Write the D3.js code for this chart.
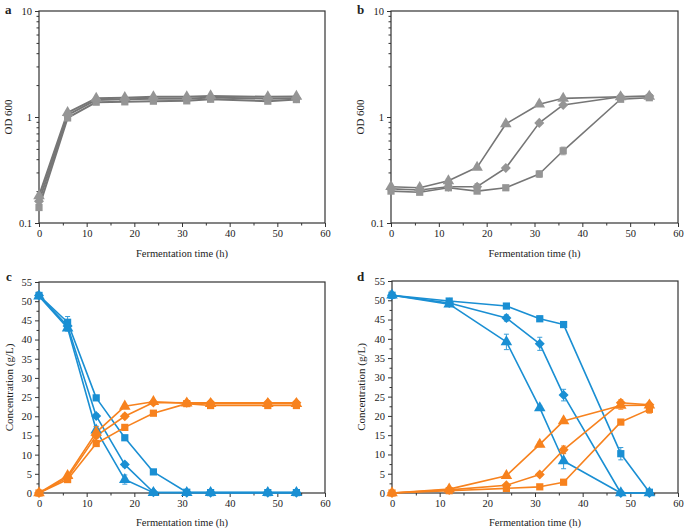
<!DOCTYPE html>
<html>
<head>
<meta charset="utf-8">
<script src="https://cdn.jsdelivr.net/npm/d3@7"></script>
<style>
  html, body { margin: 0; padding: 0; background: #fff; }
  svg { display: block; }
  text { font-family: "Liberation Serif", "Times New Roman", serif; fill: #222; }
</style>
</head>
<body>
<svg id="chart" width="685" height="530"></svg>
<script>
// ---------------- DATA ----------------
const timeFull = [0, 6, 12, 18, 24, 31, 36, 48, 54];
const timeD = [0, 12, 24, 31, 36, 48, 54];
const xTicks = [0, 10, 20, 30, 40, 50, 60];
const logTicks = [0.1, 1, 10];
const linTicks = [0, 5, 10, 15, 20, 25, 30, 35, 40, 45, 50, 55];

// Panel a (OD600)
const aSquare   = [0.14, 0.98, 1.38, 1.39, 1.41, 1.42, 1.47, 1.41, 1.46];
const aDiamond  = [0.16, 1.04, 1.45, 1.47, 1.49, 1.49, 1.53, 1.49, 1.50];
const aTriangle = [0.18, 1.10, 1.50, 1.52, 1.55, 1.55, 1.58, 1.55, 1.56];

// Panel b (OD600)
const bSquare   = [0.200, 0.195, 0.215, 0.200, 0.215, 0.29, 0.48, 1.47, 1.52];
const bSquareErr= [0.005, 0.005, 0.005, 0.010, 0.005, 0.02, 0.04, 0.05, 0.05];
const bDiamond  = [0.210, 0.205, 0.220, 0.220, 0.330, 0.88, 1.30, 1.55, 1.58];
const bDiamondErr=[0.005, 0.005, 0.010, 0.015, 0.010, 0.03, 0.03, 0.05, 0.03];
const bTriangle = [0.220, 0.215, 0.250, 0.335, 0.860, 1.32, 1.50, 1.55, 1.56];
const bTriangleErr=[0.005,0.005, 0.010, 0.010, 0.030, 0.03, 0.03, 0.03, 0.03];

// Panel c (g/L): glucose (blue) and ethanol (orange)
const cGluSquare    = [51.5, 44.5, 24.8, 14.4, 5.5, 0.2, 0.1, 0.1, 0.1];
const cGluSquareErr = [0.5, 1.5, 0.5, 0.5, 0.4, 0, 0, 0, 0];
const cGluDiamond   = [51.5, 43.5, 20.1, 7.4, 0.2, 0.1, 0.1, 0.1, 0.1];
const cGluDiamondErr= [0.5, 0.8, 0.6, 0.6, 0, 0, 0, 0, 0];
const cGluTriangle  = [51.3, 43.0, 16.4, 3.5, 0.1, 0.1, 0.1, 0.1, 0.1];
const cGluTriangleErr=[0.5, 0.8, 1.0, 1.2, 0, 0, 0, 0, 0];
const cEthSquare    = [0, 3.5, 12.9, 17.1, 20.8, 23.3, 22.8, 22.8, 22.8];
const cEthSquareErr = [0, 0.4, 0.6, 0.3, 0.3, 0.3, 0.3, 0.3, 0.3];
const cEthDiamond   = [0, 4.0, 14.9, 20.0, 23.6, 23.5, 23.5, 23.5, 23.5];
const cEthDiamondErr= [0, 0.4, 1.2, 0.6, 0.6, 0.3, 0.3, 0.3, 0.3];
const cEthTriangle  = [0, 4.5, 15.8, 22.6, 23.8, 23.4, 23.3, 23.3, 23.3];
const cEthTriangleErr=[0, 0.4, 1.5, 0.5, 0.4, 0.3, 0.3, 0.3, 0.3];

// Panel d (g/L)
const dGluSquare    = [51.3, 49.8, 48.5, 45.2, 43.7, 10.2, 0.2];
const dGluSquareErr = [0.4, 0.5, 0.5, 0.7, 0.6, 1.6, 0];
const dGluDiamond   = [51.3, 49.3, 45.4, 38.7, 25.4, 0, 0];
const dGluDiamondErr= [0.4, 0.5, 0.8, 1.7, 1.5, 0, 0];
const dGluTriangle  = [51.3, 49.0, 39.2, 22.1, 8.3, 0, 0];
const dGluTriangleErr=[0.4, 0.5, 2.0, 0.5, 2.0, 0, 0];
const dEthSquare    = [0, 0.6, 1.2, 1.6, 2.8, 18.4, 21.7];
const dEthSquareErr = [0, 0.2, 0.3, 0.3, 0.3, 0.5, 1.0];
const dEthDiamond   = [0, 0.8, 2.0, 4.8, 11.2, 23.4, 22.9];
const dEthDiamondErr= [0, 0.2, 0.4, 0.5, 1.0, 0.8, 0.5];
const dEthTriangle  = [0, 1.0, 4.5, 12.6, 18.7, 22.7, 22.8];
const dEthTriangleErr=[0, 0.2, 0.4, 0.6, 0.5, 1.0, 0.5];

// ---------------- DRAWING ----------------
const svg = d3.select("#chart");
const GRAY_LINE = "#767676", GRAY_MARK = "#959595";
const BLUE = "#1a8fd3", ORANGE = "#f7821e";

const symbolFor = {
  square: d3.symbolSquare,
  diamond: d3.symbolDiamond2 || d3.symbolDiamond,
  triangle: d3.symbolTriangle
};
const symbolSize = { square: 52, diamond: 64, triangle: 58 };

function panel(cfg) {
  const g = svg.append("g");
  const x = d3.scaleLinear().domain([0, 60]).range([cfg.left, cfg.right]);
  const y = cfg.log
    ? d3.scaleLog().domain([0.1, 10]).range([cfg.bottom, cfg.top])
    : d3.scaleLinear().domain([0, 55]).range([cfg.bottom, cfg.top]);

  // minor ticks
  const xMinor = [5, 15, 25, 35, 45, 55];
  g.append("g").attr("transform", `translate(0,${cfg.bottom})`)
    .call(d3.axisBottom(x).tickValues(xMinor).tickSize(2.5).tickFormat(""))
    .call(s => s.select(".domain").remove());
  let yMinor;
  if (cfg.log) {
    yMinor = [];
    [0.1, 1].forEach(dec => { for (let k = 2; k <= 9; k++) yMinor.push(dec * k); });
  } else {
    yMinor = d3.range(2.5, 55, 5);
  }
  g.append("g").attr("transform", `translate(${cfg.left},0)`)
    .call(d3.axisLeft(y).tickValues(yMinor).tickSize(2.5).tickFormat(""))
    .call(s => s.select(".domain").remove());

  // major axes
  const xa = g.append("g").attr("transform", `translate(0,${cfg.bottom})`)
    .call(d3.axisBottom(x).tickValues(xTicks).tickSize(4).tickPadding(3).tickFormat(d3.format("d")));
  xa.select(".domain").remove();
  xa.selectAll("text").style("font-size", "10.5px").style("font-family", "Liberation Serif");

  const ya = g.append("g").attr("transform", `translate(${cfg.left},0)`)
    .call(d3.axisLeft(y).tickValues(cfg.log ? logTicks : linTicks).tickSize(4).tickPadding(3)
      .tickFormat(cfg.log ? (d => String(d)) : d3.format("d")));
  ya.select(".domain").remove();
  ya.selectAll("text").style("font-size", "10.5px").style("font-family", "Liberation Serif");

  g.selectAll(".tick line").attr("stroke", "#333");

  // frame
  g.append("rect").attr("x", cfg.left).attr("y", cfg.top)
    .attr("width", cfg.right - cfg.left).attr("height", cfg.bottom - cfg.top)
    .attr("fill", "none").attr("stroke", "#333").attr("stroke-width", 1.2);

  const line = d3.line().x(d => x(d.x)).y(d => y(d.y));

  // lines
  cfg.series.forEach(s => {
    g.append("path").datum(s.pts).attr("d", line)
      .attr("fill", "none").attr("stroke", s.lineColor)
      .attr("stroke-width", cfg.lw).attr("stroke-linejoin", "round");
  });
  // error bars + markers
  cfg.series.forEach(s => {
    const eb = g.append("g").attr("stroke", s.markColor).attr("stroke-width", 1).attr("opacity", 0.85);
    s.pts.filter(d => d.e > 0).forEach(d => {
      const cx = x(d.x);
      const lo = cfg.log ? Math.max(d.y - d.e, 0.1) : Math.max(d.y - d.e, 0);
      const y1 = y(lo), y2 = y(d.y + d.e);
      eb.append("line").attr("x1", cx).attr("x2", cx).attr("y1", y1).attr("y2", y2);
      eb.append("line").attr("x1", cx - 2.5).attr("x2", cx + 2.5).attr("y1", y1).attr("y2", y1);
      eb.append("line").attr("x1", cx - 2.5).attr("x2", cx + 2.5).attr("y1", y2).attr("y2", y2);
    });
    g.append("g").selectAll("path").data(s.pts).join("path")
      .attr("transform", d => `translate(${x(d.x)},${y(d.y)})`)
      .attr("d", d3.symbol().type(symbolFor[s.shape]).size(symbolSize[s.shape]))
      .attr("fill", s.markColor);
  });

  // texts
  svg.append("text").attr("x", cfg.letterX).attr("y", cfg.letterY)
    .style("font-size", "13px").style("font-weight", "bold").text(cfg.letter);
  svg.append("text").attr("x", (cfg.left + cfg.right) / 2).attr("y", cfg.xTitleY)
    .attr("text-anchor", "middle").style("font-size", "10.5px").text("Fermentation time (h)");
  svg.append("text")
    .attr("transform", `translate(${cfg.yTitleX},${(cfg.top + cfg.bottom) / 2}) rotate(-90)`)
    .attr("text-anchor", "middle").style("font-size", "11px").text(cfg.yTitle);
}

function S(xs, ys, errs, shape, lc, mc) {
  return { pts: xs.map((x, i) => ({ x, y: ys[i], e: errs ? errs[i] : 0 })), shape, lineColor: lc, markColor: mc };
}

panel({
  left: 39, right: 325, top: 11, bottom: 223, log: true, lw: 2,
  letter: "a", letterX: 5, letterY: 14, xTitleY: 257, yTitleX: 12, yTitle: "OD 600",
  series: [
    S(timeFull, aSquare, null, "square", GRAY_LINE, GRAY_MARK),
    S(timeFull, aDiamond, null, "diamond", GRAY_LINE, GRAY_MARK),
    S(timeFull, aTriangle, null, "triangle", GRAY_LINE, GRAY_MARK)
  ]
});
panel({
  left: 391, right: 678, top: 11, bottom: 223, log: true, lw: 1.6,
  letter: "b", letterX: 357, letterY: 14, xTitleY: 257, yTitleX: 364, yTitle: "OD 600",
  series: [
    S(timeFull, bSquare, bSquareErr, "square", GRAY_LINE, GRAY_MARK),
    S(timeFull, bDiamond, bDiamondErr, "diamond", GRAY_LINE, GRAY_MARK),
    S(timeFull, bTriangle, bTriangleErr, "triangle", GRAY_LINE, GRAY_MARK)
  ]
});
panel({
  left: 39, right: 325, top: 282, bottom: 493, log: false, lw: 1.6,
  letter: "c", letterX: 6, letterY: 281, xTitleY: 526, yTitleX: 13, yTitle: "Concentration (g/L)",
  series: [
    S(timeFull, cGluSquare, cGluSquareErr, "square", BLUE, BLUE),
    S(timeFull, cGluDiamond, cGluDiamondErr, "diamond", BLUE, BLUE),
    S(timeFull, cGluTriangle, cGluTriangleErr, "triangle", BLUE, BLUE),
    S(timeFull, cEthSquare, cEthSquareErr, "square", ORANGE, ORANGE),
    S(timeFull, cEthDiamond, cEthDiamondErr, "diamond", ORANGE, ORANGE),
    S(timeFull, cEthTriangle, cEthTriangleErr, "triangle", ORANGE, ORANGE)
  ]
});
panel({
  left: 392, right: 678, top: 281, bottom: 493, log: false, lw: 1.6,
  letter: "d", letterX: 357, letterY: 281, xTitleY: 526, yTitleX: 365, yTitle: "Concentration (g/L)",
  series: [
    S(timeD, dGluSquare, dGluSquareErr, "square", BLUE, BLUE),
    S(timeD, dGluDiamond, dGluDiamondErr, "diamond", BLUE, BLUE),
    S(timeD, dGluTriangle, dGluTriangleErr, "triangle", BLUE, BLUE),
    S(timeD, dEthSquare, dEthSquareErr, "square", ORANGE, ORANGE),
    S(timeD, dEthDiamond, dEthDiamondErr, "diamond", ORANGE, ORANGE),
    S(timeD, dEthTriangle, dEthTriangleErr, "triangle", ORANGE, ORANGE)
  ]
});
</script>
</body>
</html>
